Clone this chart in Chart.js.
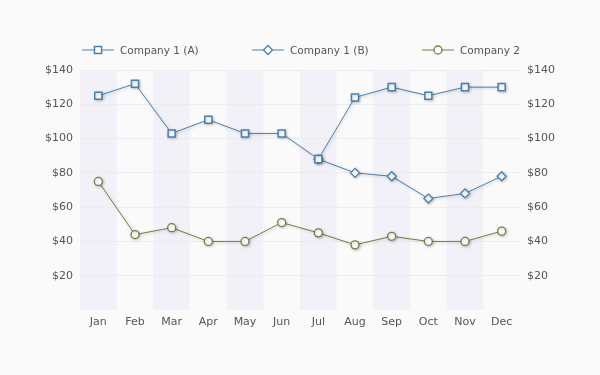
<!DOCTYPE html>
<html>
<head>
<meta charset="utf-8">
<script src="https://cdn.jsdelivr.net/npm/chart.js@4"></script>
<style>
  html, body { margin: 0; padding: 0; background: #fafafa; }
  #wrap { width: 600px; height: 375px; }
</style>
</head>
<body>
<div id="wrap"><canvas id="chart" width="600" height="375"></canvas></div>
<script>
// Chart data
const months = ['Jan', 'Feb', 'Mar', 'Apr', 'May', 'Jun', 'Jul', 'Aug', 'Sep', 'Oct', 'Nov', 'Dec'];
const company1A = [125, 132, 103, 111, 103, 103, 88, 124, 130, 125, 130, 130];
const company1B = [null, null, null, null, null, null, 88, 80, 78, 65, 68, 78];
const company2 = [75, 44, 48, 40, 40, 51, 45, 38, 43, 40, 40, 46];
const yTicks = [20, 40, 60, 80, 100, 120, 140];

const blue = '#4a80ad';
const olive = '#7b7b45';
const textColor = '#555555';

Chart.defaults.font.family = "'DejaVu Sans', Verdana, sans-serif";
Chart.defaults.font.size = 11;
Chart.defaults.color = textColor;

// Alternate column shading behind the plot
const bandsPlugin = {
    id: 'bands',
    beforeDraw(chart) {
        const { ctx, chartArea, scales } = chart;
        const x = scales.x;
        const half = (x.getPixelForValue(1) - x.getPixelForValue(0)) / 2;
        ctx.save();
        ctx.fillStyle = '#f1f1f7';
        for (let i = 0; i < months.length; i += 2) {
            const c = x.getPixelForValue(i);
            ctx.fillRect(c - half, chartArea.top, half * 2, chartArea.bottom - chartArea.top);
        }
        ctx.restore();
    }
};

// Soft shadow under lines and markers
const shadowPlugin = {
    id: 'shadow',
    beforeDatasetDraw(chart) {
        const ctx = chart.ctx;
        ctx.save();
        ctx.shadowColor = 'rgba(0,0,0,0.22)';
        ctx.shadowBlur = 3;
        ctx.shadowOffsetX = 1;
        ctx.shadowOffsetY = 1;
    },
    afterDatasetDraw(chart) {
        chart.ctx.restore();
    }
};

// Legend with line + marker symbols, evenly spread
const legendPlugin = {
    id: 'lineLegend',
    afterDraw(chart) {
        const { ctx } = chart;
        const y = 50;
        ctx.save();
        chart.data.datasets.forEach((ds, i) => {
            const x0 = 82 + i * 170;
            ctx.strokeStyle = ds.borderColor;
            ctx.lineWidth = 1;
            ctx.beginPath();
            ctx.moveTo(x0, y);
            ctx.lineTo(x0 + 32, y);
            ctx.stroke();
            ctx.fillStyle = '#ffffff';
            ctx.lineWidth = ds.pointBorderWidth;
            Chart.helpers.drawPoint(ctx, {
                pointStyle: ds.pointStyle,
                radius: ds.pointRadius,
                borderWidth: ds.pointBorderWidth
            }, x0 + 16, y);
            ctx.fillStyle = textColor;
            ctx.font = "10.5px 'DejaVu Sans', Verdana, sans-serif";
            ctx.textBaseline = 'middle';
            ctx.fillText(ds.label, x0 + 38, y + 1);
        });
        ctx.restore();
    }
};

const money = v => '$' + v;

new Chart(document.getElementById('chart'), {
    type: 'line',
    data: {
        labels: months,
        datasets: [
            {
                label: 'Company 1 (A)',
                data: company1A,
                borderColor: blue,
                backgroundColor: '#ffffff',
                borderWidth: 1,
                pointStyle: 'rect',
                pointRadius: 5,
                pointBorderWidth: 1.5,
                tension: 0
            },
            {
                label: 'Company 1 (B)',
                data: company1B,
                borderColor: blue,
                backgroundColor: '#ffffff',
                borderWidth: 1,
                pointStyle: 'rectRot',
                pointRadius: 4.5,
                pointBorderWidth: 1.3,
                tension: 0
            },
            {
                label: 'Company 2',
                data: company2,
                borderColor: olive,
                backgroundColor: '#ffffff',
                borderWidth: 1,
                pointStyle: 'circle',
                pointRadius: 4,
                pointBorderWidth: 1.3,
                tension: 0
            }
        ]
    },
    options: {
        responsive: false,
        animation: false,
        layout: { padding: { top: 70, left: 0, right: 0, bottom: 0 } },
        plugins: {
            legend: { display: false },
            tooltip: { enabled: false }
        },
        scales: {
            x: {
                offset: true,
                grid: { display: false, drawTicks: false },
                border: { display: false },
                ticks: { padding: 6, color: textColor },
                afterFit(scale) { scale.height = 65; }
            },
            y: {
                position: 'left',
                min: 0,
                max: 140,
                afterBuildTicks(scale) { scale.ticks = yTicks.map(v => ({ value: v })); },
                grid: { color: '#ededf0', drawTicks: false },
                border: { display: false },
                ticks: { callback: money, padding: 7, color: textColor },
                afterFit(scale) { scale.width = 80; }
            },
            y2: {
                position: 'right',
                min: 0,
                max: 140,
                afterBuildTicks(scale) { scale.ticks = yTicks.map(v => ({ value: v })); },
                grid: { display: false, drawTicks: false },
                border: { display: false },
                ticks: { callback: money, padding: 7, color: textColor },
                afterFit(scale) { scale.width = 80; }
            }
        }
    },
    plugins: [bandsPlugin, shadowPlugin, legendPlugin]
});
</script>
</body>
</html>
